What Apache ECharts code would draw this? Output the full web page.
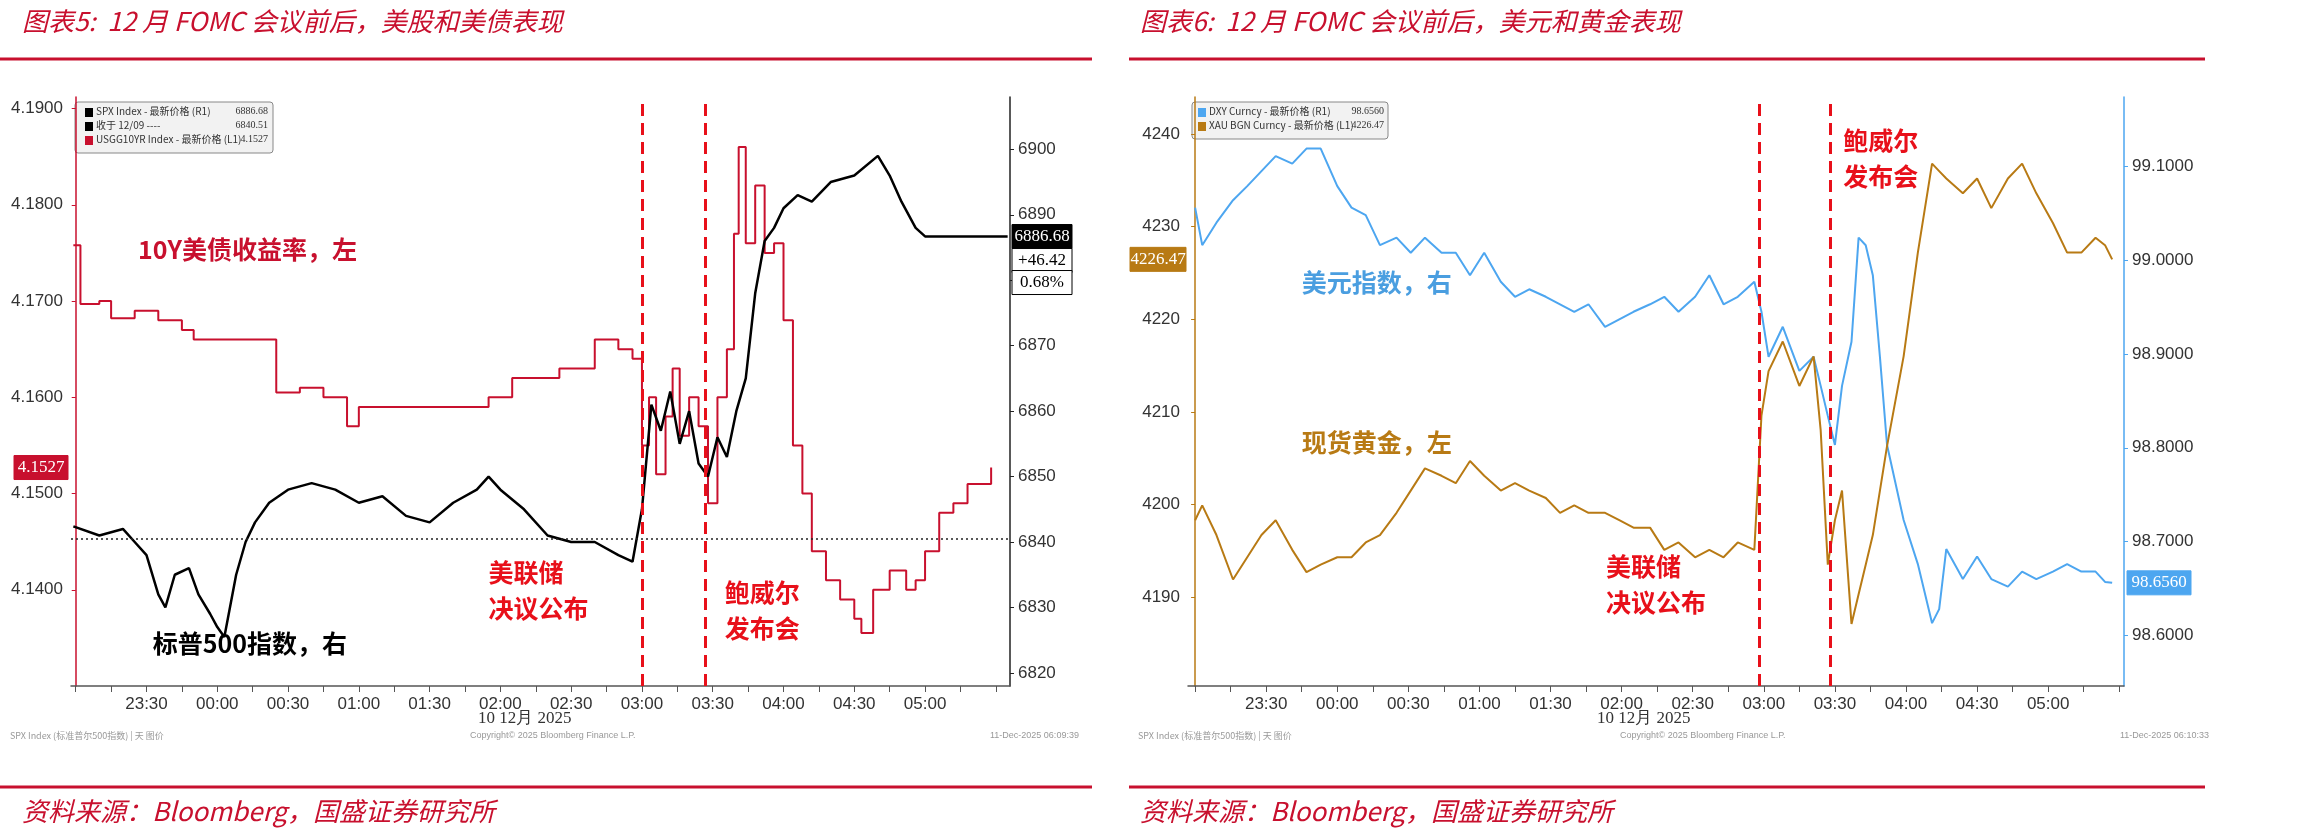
<!DOCTYPE html>
<html><head><meta charset="utf-8">
<script src="https://cdn.jsdelivr.net/npm/echarts@6/dist/echarts.min.js"></script>
<style>html,body{margin:0;padding:0;background:#fff}#c{width:2316px;height:839px}</style>
</head><body><div id="c"></div>
<script>
// minutes since 23:00 (10 Dec 2025, Beijing time)
const ustTimes = [-1,2,10,15,25,35,45,50,60,75,85,95,105,110,115,120,135,150,165,175,185,195,205,215,220,230,236,240,243,246,250,253,256,260,264,268,272,276,279,281,284,288,292,296,300,304,308,312,318,324,330,333,338,345,352,356,360,366,372,378,385,388];
const ustValues = [4.1758,4.1697,4.170,4.1682,4.169,4.168,4.167,4.166,4.166,4.166,4.1605,4.161,4.160,4.160,4.157,4.159,4.159,4.159,4.159,4.160,4.162,4.162,4.163,4.163,4.166,4.165,4.164,4.155,4.160,4.152,4.158,4.163,4.156,4.160,4.157,4.149,4.160,4.165,4.177,4.186,4.176,4.182,4.175,4.176,4.168,4.155,4.150,4.144,4.141,4.139,4.137,4.1355,4.140,4.142,4.140,4.141,4.144,4.148,4.149,4.151,4.151,4.1527];
const spxTimes = [-1,10,20,25,30,35,38,42,48,52,57,60,63,68,72,76,82,90,100,110,120,130,140,150,160,170,175,180,190,200,210,220,230,236,240,244,248,252,256,260,264,268,272,276,280,284,288,292,296,300,306,312,320,330,340,345,350,356,360,370,395];
const spxValues = [6842.4,6841,6842,6840,6838,6832,6830,6835,6836,6832,6829,6827,6825.5,6835,6840,6843,6846,6848,6849,6848,6846,6847,6844,6843,6846,6848,6850,6848,6845,6841,6840,6840,6838,6837,6845,6861,6857,6863,6855,6860,6852,6850,6856,6853,6860,6865,6878,6886,6888,6891,6893,6892,6895,6896,6899,6896,6892,6888,6886.7,6886.68,6886.68];
const spxPrevClose = 6840.51;
const fxTimes = [0,3,9,16,22,28,34,41,47,53,60,66,72,78,85,91,97,104,110,116,122,129,135,141,148,154,160,166,173,179,185,192,198,204,211,217,223,229,236,239,242,248,255,261,264,267,270,273,277,280,283,286,289,292,299,305,311,314,317,324,330,336,343,349,355,362,368,374,380,384,387];
const dxyValues = [99.056,99.016,99.040,99.064,99.079,99.095,99.111,99.103,99.119,99.119,99.079,99.056,99.048,99.016,99.024,99.008,99.024,99.008,99.008,98.984,99.008,98.977,98.961,98.969,98.961,98.953,98.945,98.953,98.929,98.937,98.945,98.953,98.961,98.945,98.961,98.984,98.953,98.961,98.977,98.945,98.897,98.929,98.882,98.897,98.866,98.834,98.803,98.866,98.913,99.024,99.016,98.984,98.897,98.803,98.723,98.676,98.613,98.628,98.692,98.660,98.684,98.660,98.652,98.668,98.660,98.668,98.676,98.668,98.668,98.657,98.656];
const goldValues = [4198.3,4199.9,4196.7,4191.9,4194.3,4196.7,4198.3,4195.1,4192.7,4193.5,4194.3,4194.3,4195.9,4196.7,4199.1,4201.5,4203.9,4203.1,4202.3,4204.7,4203.1,4201.5,4202.3,4201.5,4200.7,4199.1,4199.9,4199.1,4199.1,4198.3,4197.5,4197.5,4195.1,4195.9,4194.3,4195.1,4194.3,4195.9,4195.1,4209.6,4214.4,4217.6,4212.8,4216.0,4208.0,4193.5,4198.3,4201.5,4187.1,4190.3,4193.5,4196.7,4201.5,4206.3,4216.0,4227.2,4236.8,4236.0,4235.2,4233.6,4235.2,4232.0,4235.2,4236.8,4233.6,4230.4,4227.2,4227.2,4228.8,4228.0,4226.47];
const timeLabels = [30,60,90,120,150,180,210,240,270,300,330,360];
const tickTimes = [0,15,30,45,60,75,90,105,120,135,150,165,180,195,210,225,240,255,270,285,300,315,330,345,360,375,390];
const eventTimesL = [240,267];
const eventTimesR = [238,268];
const ustTicks = [4.14,4.15,4.16,4.17,4.18,4.19];
const spxTicks = [6820,6830,6840,6850,6860,6870,6880,6890,6900];
const goldTicks = [4190,4200,4210,4220,4230,4240];
const dxyTicks = [98.6,98.7,98.8,98.9,99.0,99.1];

const zip=(t,v)=>t.map((x,i)=>[x,v[i]]);
const fmtT=t=>{const h=(23+Math.floor(t/60))%24,m=((t%60)+60)%60;return String(h).padStart(2,'0')+':'+String(m).padStart(2,'0');};
const RED='#c8102e', BLUE='#4da6f0', GOLD='#b87a14';
const axLab={fontFamily:'Liberation Sans Narrow, Liberation Sans',fontSize:17,color:'#333'};
function xAx(gi,min,max){return {type:'value',gridIndex:gi,min:min,max:max,
  axisLine:{lineStyle:{color:'#555',width:1.5}},splitLine:{show:false},
  axisTick:{customValues:tickTimes,length:6,lineStyle:{color:'#555'}},
  axisLabel:Object.assign({customValues:timeLabels,formatter:v=>fmtT(v),margin:10},axLab)};}
function yAx(gi,pos,min,max,ticks,col,fmt){return {type:'value',gridIndex:gi,position:pos,min:min,max:max,
  axisLine:{show:true,lineStyle:{color:col,width:1.5}},splitLine:{show:false},
  axisTick:{show:true,customValues:ticks,length:4,lineStyle:{color:col}},
  axisLabel:Object.assign({customValues:ticks,formatter:fmt},axLab)};}
const ch=echarts.init(document.getElementById('c'));
const vline=(times,xi)=>({silent:true,symbol:'none',label:{show:false},lineStyle:{color:'#e8101a',type:[12,7],width:3},data:times.map(t=>({xAxis:t}))});
const ann=(txt,col)=>({text:txt,fill:col,font:'bold 25px "Noto Sans CJK SC"',lineHeight:36});
ch.setOption({
  animation:false,
  grid:[{left:71,right:1306,top:97,bottom:153},{left:1188,right:192,top:97,bottom:153}],
  xAxis:[xAx(0,-2,396),xAx(1,-3,392)],
  yAxis:[yAx(0,'left',4.13,4.1912,ustTicks,RED,v=>v.toFixed(4)),
         yAx(0,'right',6818,6908,spxTicks,'#222',v=>String(v)),
         yAx(1,'left',4180.4,4244,goldTicks,GOLD,v=>String(v)),
         yAx(1,'right',98.546,99.174,dxyTicks,BLUE,v=>v.toFixed(4))],
  series:[
    {type:'line',xAxisIndex:0,yAxisIndex:0,data:zip(ustTimes,ustValues),step:'end',symbol:'none',lineStyle:{color:RED,width:2},
      markLine:vline(eventTimesL)},
    {type:'line',xAxisIndex:0,yAxisIndex:1,data:zip(spxTimes,spxValues),symbol:'none',lineStyle:{color:'#000',width:2.5},
      markLine:{silent:true,symbol:'none',label:{show:false},lineStyle:{color:'#222',type:[2,3],width:1.5},data:[{yAxis:spxPrevClose}]}},
    {type:'line',xAxisIndex:1,yAxisIndex:3,data:zip(fxTimes,dxyValues),symbol:'none',lineStyle:{color:BLUE,width:2}},
    {type:'line',xAxisIndex:1,yAxisIndex:2,data:zip(fxTimes,goldValues),symbol:'none',lineStyle:{color:GOLD,width:2},
      markLine:vline(eventTimesR)}
  ]
});
const P=(gi,yi,x,y)=>ch.convertToPixel({xAxisIndex:gi,yAxisIndex:yi},[x,y]);
const g=[];
const T=(x,y,st)=>g.push({type:'text',x:x,y:y,style:st});
// titles and rules
T(22,8,{text:'图表5:  12 月 FOMC 会议前后，美股和美债表现',fill:RED,font:'italic 26px "Noto Sans CJK SC"'});
T(1140,8,{text:'图表6:  12 月 FOMC 会议前后，美元和黄金表现',fill:RED,font:'italic 26px "Noto Sans CJK SC"'});
[[0,1092,59],[1129,2205,59],[0,1092,787],[1129,2205,787]].forEach(a=>g.push({type:'line',shape:{x1:a[0],y1:a[2],x2:a[1],y2:a[2]},style:{stroke:RED,lineWidth:3}}));
T(22,798,{text:'资料来源：Bloomberg，国盛证券研究所',fill:RED,font:'italic 26px "Noto Sans CJK SC"'});
T(1140,798,{text:'资料来源：Bloomberg，国盛证券研究所',fill:RED,font:'italic 26px "Noto Sans CJK SC"'});
// date line under axes
T(478,710,{text:'10 12月 2025',fill:'#333',font:'17px "Liberation Sans Narrow"'});
T(1597,710,{text:'10 12月 2025',fill:'#333',font:'17px "Liberation Sans Narrow"'});
[[10,'SPX Index (标准普尔500指数) | 天 图价'],[1138,'SPX Index (标准普尔500指数) | 天 图价']].forEach(a=>T(a[0],731,{text:a[1],fill:'#999',font:'9px "Noto Sans CJK SC"'}));
T(470,731,{text:'Copyright© 2025 Bloomberg Finance L.P.',fill:'#999',font:'9px "Liberation Sans"'});
T(1620,731,{text:'Copyright© 2025 Bloomberg Finance L.P.',fill:'#999',font:'9px "Liberation Sans"'});
T(990,731,{text:'11-Dec-2025 06:09:39',fill:'#999',font:'9px "Liberation Sans"'});
T(2120,731,{text:'11-Dec-2025 06:10:33',fill:'#999',font:'9px "Liberation Sans"'});
// legends
g.push({type:'rect',shape:{x:75,y:102,width:198,height:51,r:3},style:{fill:'#f2f2f2',stroke:'#888',lineWidth:1}});
[['SPX Index - 最新价格 (R1)','6886.68','#000'],['收于 12/09 ----','6840.51','#000'],['USGG10YR Index - 最新价格 (L1)','4.1527',RED]].forEach((r,i)=>{
  g.push({type:'rect',shape:{x:85,y:108+i*14,width:8,height:9},style:{fill:r[2]}});
  T(96,106+i*14,{text:r[0],fill:'#333',font:'10px "Noto Sans CJK SC"'});
  T(268,106+i*14,{text:r[1],fill:'#333',font:'10px "Liberation Sans Narrow"',align:'right'});
});
g.push({type:'rect',shape:{x:1192,y:102,width:196,height:37,r:3},style:{fill:'#f2f2f2',stroke:'#888',lineWidth:1}});
[['DXY Curncy - 最新价格 (R1)','98.6560',BLUE],['XAU BGN Curncy - 最新价格 (L1)','4226.47',GOLD]].forEach((r,i)=>{
  g.push({type:'rect',shape:{x:1198,y:108+i*14,width:8,height:9},style:{fill:r[2]}});
  T(1209,106+i*14,{text:r[0],fill:'#333',font:'10px "Noto Sans CJK SC"'});
  T(1384,106+i*14,{text:r[1],fill:'#333',font:'10px "Liberation Sans Narrow"',align:'right'});
});
// value boxes on axes
function box(x,y,w,txt,bg,fg){g.push({type:'rect',z:10,shape:{x:x,y:y-12,width:w,height:24},style:{fill:bg,stroke:fg==='#fff'?bg:'#000',lineWidth:1}});
  g.push({type:'text',z:11,x:x+w/2,y:y,style:{text:txt,fill:fg,font:'17px "Liberation Sans Narrow"',align:'center',verticalAlign:'middle'}});}
let p=P(0,0,0,4.1527); box(14,p[1],54,'4.1527',RED,'#fff');
p=P(0,1,0,6886.68); box(1012,p[1],60,'6886.68','#000','#fff');
box(1012,p[1]+24,60,'+46.42','#fff','#000'); box(1012,p[1]+46,60,'0.68%','#fff','#000');
p=P(1,2,0,4226.47); box(1130,p[1],56,'4226.47',GOLD,'#fff');
p=P(1,3,0,98.656); box(2127,p[1],64,'98.6560',BLUE,'#fff');
// annotations
let a=P(0,0,1,4.1743); T(a[0]+60,a[1]-28,ann('10Y美债收益率，左',RED));
a=P(0,1,3,6826); T(a[0]+70,a[1]-8,ann('标普500指数，右','#000'));
a=P(0,0,197,4.1405); T(a[0]-52,a[1]-30,ann('美联储\n决议公布','#e8101a'));
a=P(0,0,270,4.1385); T(a[0]+12,a[1]-30,ann('鲍威尔\n发布会','#e8101a'));
a=P(1,3,45,98.97); T(a[0],a[1]-24,ann('美元指数，右','#4a9ee0'));
a=P(1,2,45,4206); T(a[0],a[1]-24,ann('现货黄金，左',GOLD));
a=P(1,2,197,4192); T(a[0]-56,a[1]-30,ann('美联储\n决议公布','#e8101a'));
a=P(1,2,271,4238); T(a[0]+6,a[1]-30,ann('鲍威尔\n发布会','#e8101a'));
ch.setOption({graphic:g});
</script></body></html>
